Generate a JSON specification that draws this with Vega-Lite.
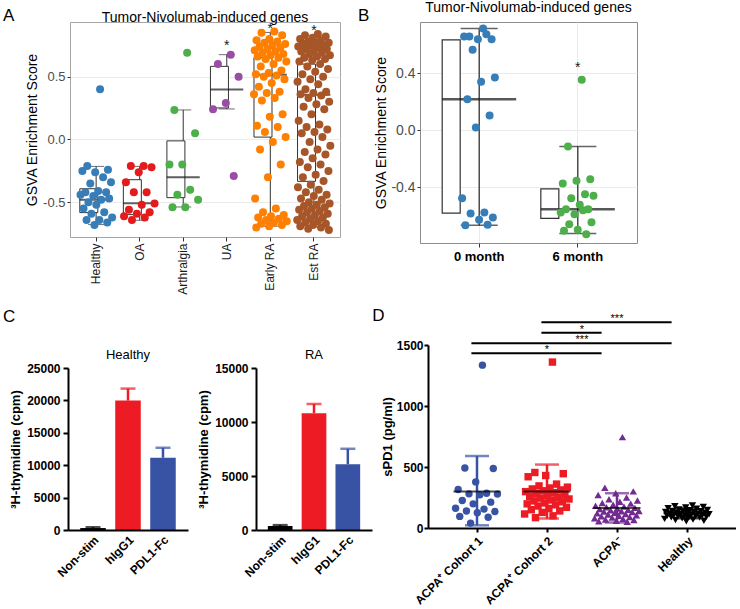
{
  "$schema": "https://vega.github.io/schema/vega-lite/v6.json",
  "padding": {"left": 3, "top": 0, "right": 0, "bottom": 0},
  "background": "white",
  "config": {
    "font": "Liberation Sans",
    "view": {"stroke": null},
    "axis": {"grid": false, "labelFont": "Liberation Sans", "titleFont": "Liberation Sans", "labelOverlap": false},
    "title": {"font": "Liberation Sans", "fontWeight": "normal", "color": "black"},
    "text": {"font": "Liberation Sans"}
  },
  "datasets": {
    "aPts": [
      {"g":"Healthy","v":0.40},{"g":"Healthy","v":-0.21},{"g":"Healthy","v":-0.24},{"g":"Healthy","v":-0.26},{"g":"Healthy","v":-0.25},{"g":"Healthy","v":-0.30},{"g":"Healthy","v":-0.35},{"g":"Healthy","v":-0.34},{"g":"Healthy","v":-0.41},{"g":"Healthy","v":-0.42},{"g":"Healthy","v":-0.42},{"g":"Healthy","v":-0.45},{"g":"Healthy","v":-0.44},{"g":"Healthy","v":-0.48},{"g":"Healthy","v":-0.50},{"g":"Healthy","v":-0.47},{"g":"Healthy","v":-0.52},{"g":"Healthy","v":-0.55},{"g":"Healthy","v":-0.58},{"g":"Healthy","v":-0.59},{"g":"Healthy","v":-0.62},{"g":"Healthy","v":-0.64},{"g":"Healthy","v":-0.64},{"g":"Healthy","v":-0.66},{"g":"Healthy","v":-0.68},
      {"g":"OA","v":-0.21},{"g":"OA","v":-0.21},{"g":"OA","v":-0.22},{"g":"OA","v":-0.26},{"g":"OA","v":-0.34},{"g":"OA","v":-0.42},{"g":"OA","v":-0.42},{"g":"OA","v":-0.51},{"g":"OA","v":-0.52},{"g":"OA","v":-0.56},{"g":"OA","v":-0.58},{"g":"OA","v":-0.59},{"g":"OA","v":-0.61},{"g":"OA","v":-0.62},{"g":"OA","v":-0.64},
      {"g":"Arthralgia","v":0.69},{"g":"Arthralgia","v":0.235},{"g":"Arthralgia","v":0.05},{"g":"Arthralgia","v":-0.20},{"g":"Arthralgia","v":-0.20},{"g":"Arthralgia","v":-0.40},{"g":"Arthralgia","v":-0.44},{"g":"Arthralgia","v":-0.48},{"g":"Arthralgia","v":-0.54},{"g":"Arthralgia","v":-0.54},
      {"g":"UA","v":0.675},{"g":"UA","v":0.60},{"g":"UA","v":0.50},{"g":"UA","v":0.29},{"g":"UA","v":0.24},{"g":"UA","v":-0.29},
      {"g":"Early RA","v":0.86},{"g":"Early RA","v":0.85},{"g":"Early RA","v":0.83},{"g":"Early RA","v":0.80},{"g":"Early RA","v":0.79},{"g":"Early RA","v":0.78},{"g":"Early RA","v":0.77},{"g":"Early RA","v":0.76},{"g":"Early RA","v":0.75},{"g":"Early RA","v":0.74},{"g":"Early RA","v":0.73},{"g":"Early RA","v":0.72},{"g":"Early RA","v":0.71},{"g":"Early RA","v":0.70},{"g":"Early RA","v":0.69},{"g":"Early RA","v":0.68},{"g":"Early RA","v":0.67},{"g":"Early RA","v":0.66},{"g":"Early RA","v":0.65},{"g":"Early RA","v":0.64},{"g":"Early RA","v":0.62},{"g":"Early RA","v":0.60},{"g":"Early RA","v":0.58},{"g":"Early RA","v":0.55},{"g":"Early RA","v":0.53},{"g":"Early RA","v":0.52},{"g":"Early RA","v":0.51},{"g":"Early RA","v":0.50},{"g":"Early RA","v":0.48},{"g":"Early RA","v":0.45},{"g":"Early RA","v":0.42},{"g":"Early RA","v":0.38},{"g":"Early RA","v":0.37},{"g":"Early RA","v":0.36},{"g":"Early RA","v":0.33},{"g":"Early RA","v":0.31},{"g":"Early RA","v":0.20},{"g":"Early RA","v":0.18},{"g":"Early RA","v":0.11},{"g":"Early RA","v":0.10},{"g":"Early RA","v":0.06},{"g":"Early RA","v":0.02},{"g":"Early RA","v":-0.02},{"g":"Early RA","v":-0.08},{"g":"Early RA","v":-0.20},{"g":"Early RA","v":-0.30},{"g":"Early RA","v":-0.47},{"g":"Early RA","v":-0.55},{"g":"Early RA","v":-0.58},{"g":"Early RA","v":-0.60},{"g":"Early RA","v":-0.61},{"g":"Early RA","v":-0.62},{"g":"Early RA","v":-0.63},{"g":"Early RA","v":-0.64},{"g":"Early RA","v":-0.65},{"g":"Early RA","v":-0.66},{"g":"Early RA","v":-0.67},{"g":"Early RA","v":-0.68},{"g":"Early RA","v":-0.69},{"g":"Early RA","v":-0.70},
      {"g":"Est RA","v":0.84},{"g":"Est RA","v":0.83},{"g":"Est RA","v":0.82},{"g":"Est RA","v":0.81},{"g":"Est RA","v":0.80},{"g":"Est RA","v":0.79},{"g":"Est RA","v":0.78},{"g":"Est RA","v":0.77},{"g":"Est RA","v":0.77},{"g":"Est RA","v":0.76},{"g":"Est RA","v":0.75},{"g":"Est RA","v":0.75},{"g":"Est RA","v":0.74},{"g":"Est RA","v":0.73},{"g":"Est RA","v":0.72},{"g":"Est RA","v":0.72},{"g":"Est RA","v":0.71},{"g":"Est RA","v":0.70},{"g":"Est RA","v":0.69},{"g":"Est RA","v":0.68},{"g":"Est RA","v":0.67},{"g":"Est RA","v":0.66},{"g":"Est RA","v":0.65},{"g":"Est RA","v":0.64},{"g":"Est RA","v":0.63},{"g":"Est RA","v":0.62},{"g":"Est RA","v":0.60},{"g":"Est RA","v":0.58},{"g":"Est RA","v":0.56},{"g":"Est RA","v":0.54},{"g":"Est RA","v":0.52},{"g":"Est RA","v":0.50},{"g":"Est RA","v":0.48},{"g":"Est RA","v":0.46},{"g":"Est RA","v":0.44},
      {"g":"Est RA","v":0.40},{"g":"Est RA","v":0.38},{"g":"Est RA","v":0.37},{"g":"Est RA","v":0.36},{"g":"Est RA","v":0.35},{"g":"Est RA","v":0.33},{"g":"Est RA","v":0.30},{"g":"Est RA","v":0.28},{"g":"Est RA","v":0.26},{"g":"Est RA","v":0.24},{"g":"Est RA","v":0.20},{"g":"Est RA","v":0.15},{"g":"Est RA","v":0.12},{"g":"Est RA","v":0.10},{"g":"Est RA","v":0.08},{"g":"Est RA","v":0.06},{"g":"Est RA","v":0.05},{"g":"Est RA","v":0.02},{"g":"Est RA","v":-0.02},{"g":"Est RA","v":-0.05},{"g":"Est RA","v":-0.08},{"g":"Est RA","v":-0.10},{"g":"Est RA","v":-0.12},{"g":"Est RA","v":-0.15},{"g":"Est RA","v":-0.18},{"g":"Est RA","v":-0.20},{"g":"Est RA","v":-0.22},{"g":"Est RA","v":-0.25},{"g":"Est RA","v":-0.28},{"g":"Est RA","v":-0.30},
      {"g":"Est RA","v":-0.33},{"g":"Est RA","v":-0.36},{"g":"Est RA","v":-0.38},{"g":"Est RA","v":-0.40},{"g":"Est RA","v":-0.42},{"g":"Est RA","v":-0.44},{"g":"Est RA","v":-0.45},{"g":"Est RA","v":-0.47},{"g":"Est RA","v":-0.48},{"g":"Est RA","v":-0.50},{"g":"Est RA","v":-0.51},{"g":"Est RA","v":-0.52},{"g":"Est RA","v":-0.53},{"g":"Est RA","v":-0.54},{"g":"Est RA","v":-0.55},{"g":"Est RA","v":-0.56},{"g":"Est RA","v":-0.57},{"g":"Est RA","v":-0.58},{"g":"Est RA","v":-0.59},{"g":"Est RA","v":-0.60},{"g":"Est RA","v":-0.61},{"g":"Est RA","v":-0.62},{"g":"Est RA","v":-0.63},{"g":"Est RA","v":-0.64},{"g":"Est RA","v":-0.65},{"g":"Est RA","v":-0.66},{"g":"Est RA","v":-0.67},{"g":"Est RA","v":-0.68},{"g":"Est RA","v":-0.69},{"g":"Est RA","v":-0.70},{"g":"Est RA","v":-0.71},{"g":"Est RA","v":-0.72}
    ],
    "aBox": [
      {"g":"Healthy","lo":-0.677,"q1":-0.582,"med":-0.479,"q3":-0.392,"hi":-0.214},
      {"g":"OA","lo":-0.643,"q1":-0.598,"med":-0.508,"q3":-0.32,"hi":-0.214},
      {"g":"Arthralgia","lo":-0.537,"q1":-0.463,"med":-0.30,"q3":-0.011,"hi":0.235},
      {"g":"UA","lo":0.243,"q1":0.251,"med":0.397,"q3":0.582,"hi":0.675,"sig":"*","sigAt":0.716},
      {"g":"Early RA","lo":-0.69,"q1":0.019,"med":0.516,"q3":0.653,"hi":0.852,"sig":"*","sigAt":0.85},
      {"g":"Est RA","lo":-0.696,"q1":-0.333,"med":0.357,"q3":0.60,"hi":0.83,"sig":"*","sigAt":0.834}
    ],
    "bPts": [
      {"g":"0 month","v":0.712},{"g":"0 month","v":0.656},{"g":"0 month","v":0.637},{"g":"0 month","v":0.637},{"g":"0 month","v":0.656},{"g":"0 month","v":0.672},{"g":"0 month","v":0.562},{"g":"0 month","v":0.369},{"g":"0 month","v":0.338},{"g":"0 month","v":0.217},{"g":"0 month","v":0.103},{"g":"0 month","v":0.019},{"g":"0 month","v":-0.476},{"g":"0 month","v":-0.576},{"g":"0 month","v":-0.583},{"g":"0 month","v":-0.611},{"g":"0 month","v":-0.628},{"g":"0 month","v":-0.665},{"g":"0 month","v":-0.663},
      {"g":"6 month","v":0.352},{"g":"6 month","v":-0.114},{"g":"6 month","v":-0.343},{"g":"6 month","v":-0.355},{"g":"6 month","v":-0.373},{"g":"6 month","v":-0.448},{"g":"6 month","v":-0.476},{"g":"6 month","v":-0.46},{"g":"6 month","v":-0.523},{"g":"6 month","v":-0.553},{"g":"6 month","v":-0.553},{"g":"6 month","v":-0.588},{"g":"6 month","v":-0.576},{"g":"6 month","v":-0.56},{"g":"6 month","v":-0.658},{"g":"6 month","v":-0.644},{"g":"6 month","v":-0.698},{"g":"6 month","v":-0.705},{"g":"6 month","v":-0.728}
    ],
    "bBox": [
      {"g":"0 month","lo":-0.665,"q1":-0.581,"med":0.217,"q3":0.632,"hi":0.712},
      {"g":"6 month","lo":-0.723,"q1":-0.618,"med":-0.553,"q3":-0.411,"hi":-0.114,"sig":"*","sigAt":0.406}
    ],
    "cH": [
      {"cond":"Non-stim","mean":300,"hi":420},
      {"cond":"hIgG1","mean":19980,"hi":21820},
      {"cond":"PDL1-Fc","mean":11150,"hi":12690}
    ],
    "cR": [
      {"cond":"Non-stim","mean":370,"hi":450},
      {"cond":"hIgG1","mean":10820,"hi":11670},
      {"cond":"PDL1-Fc","mean":6090,"hi":7520}
    ],
    "dPts": [
      {"grp":"ACPA⁺ Cohort 1","v":1335},{"grp":"ACPA⁺ Cohort 1","v":492},{"grp":"ACPA⁺ Cohort 1","v":488},{"grp":"ACPA⁺ Cohort 1","v":378},{"grp":"ACPA⁺ Cohort 1","v":315},{"grp":"ACPA⁺ Cohort 1","v":285},{"grp":"ACPA⁺ Cohort 1","v":280},{"grp":"ACPA⁺ Cohort 1","v":278},{"grp":"ACPA⁺ Cohort 1","v":272},{"grp":"ACPA⁺ Cohort 1","v":225},{"grp":"ACPA⁺ Cohort 1","v":212},{"grp":"ACPA⁺ Cohort 1","v":198},{"grp":"ACPA⁺ Cohort 1","v":162},{"grp":"ACPA⁺ Cohort 1","v":155},{"grp":"ACPA⁺ Cohort 1","v":140},{"grp":"ACPA⁺ Cohort 1","v":135},{"grp":"ACPA⁺ Cohort 1","v":125},{"grp":"ACPA⁺ Cohort 1","v":95},{"grp":"ACPA⁺ Cohort 1","v":88},{"grp":"ACPA⁺ Cohort 1","v":40},
      {"grp":"ACPA⁺ Cohort 2","v":1360},{"grp":"ACPA⁺ Cohort 2","v":455},{"grp":"ACPA⁺ Cohort 2","v":445},{"grp":"ACPA⁺ Cohort 2","v":430},{"grp":"ACPA⁺ Cohort 2","v":420},{"grp":"ACPA⁺ Cohort 2","v":360},{"grp":"ACPA⁺ Cohort 2","v":345},{"grp":"ACPA⁺ Cohort 2","v":335},{"grp":"ACPA⁺ Cohort 2","v":328},{"grp":"ACPA⁺ Cohort 2","v":320},{"grp":"ACPA⁺ Cohort 2","v":312},{"grp":"ACPA⁺ Cohort 2","v":305},{"grp":"ACPA⁺ Cohort 2","v":298},{"grp":"ACPA⁺ Cohort 2","v":290},{"grp":"ACPA⁺ Cohort 2","v":282},{"grp":"ACPA⁺ Cohort 2","v":275},{"grp":"ACPA⁺ Cohort 2","v":268},{"grp":"ACPA⁺ Cohort 2","v":260},{"grp":"ACPA⁺ Cohort 2","v":252},{"grp":"ACPA⁺ Cohort 2","v":245},{"grp":"ACPA⁺ Cohort 2","v":238},{"grp":"ACPA⁺ Cohort 2","v":230},{"grp":"ACPA⁺ Cohort 2","v":222},{"grp":"ACPA⁺ Cohort 2","v":215},{"grp":"ACPA⁺ Cohort 2","v":205},{"grp":"ACPA⁺ Cohort 2","v":198},{"grp":"ACPA⁺ Cohort 2","v":190},{"grp":"ACPA⁺ Cohort 2","v":180},{"grp":"ACPA⁺ Cohort 2","v":170},{"grp":"ACPA⁺ Cohort 2","v":160},{"grp":"ACPA⁺ Cohort 2","v":150},{"grp":"ACPA⁺ Cohort 2","v":140},{"grp":"ACPA⁺ Cohort 2","v":128},{"grp":"ACPA⁺ Cohort 2","v":115},{"grp":"ACPA⁺ Cohort 2","v":100},{"grp":"ACPA⁺ Cohort 2","v":85},
      {"grp":"ACPA⁻","v":745},{"grp":"ACPA⁻","v":330},{"grp":"ACPA⁻","v":300},{"grp":"ACPA⁻","v":285},{"grp":"ACPA⁻","v":270},{"grp":"ACPA⁻","v":250},{"grp":"ACPA⁻","v":235},{"grp":"ACPA⁻","v":225},{"grp":"ACPA⁻","v":215},{"grp":"ACPA⁻","v":205},{"grp":"ACPA⁻","v":200},{"grp":"ACPA⁻","v":190},{"grp":"ACPA⁻","v":182},{"grp":"ACPA⁻","v":175},{"grp":"ACPA⁻","v":170},{"grp":"ACPA⁻","v":165},{"grp":"ACPA⁻","v":160},{"grp":"ACPA⁻","v":155},{"grp":"ACPA⁻","v":150},{"grp":"ACPA⁻","v":145},{"grp":"ACPA⁻","v":140},{"grp":"ACPA⁻","v":138},{"grp":"ACPA⁻","v":135},{"grp":"ACPA⁻","v":130},{"grp":"ACPA⁻","v":125},{"grp":"ACPA⁻","v":120},{"grp":"ACPA⁻","v":115},{"grp":"ACPA⁻","v":110},{"grp":"ACPA⁻","v":105},{"grp":"ACPA⁻","v":100},{"grp":"ACPA⁻","v":95},{"grp":"ACPA⁻","v":90},{"grp":"ACPA⁻","v":85},{"grp":"ACPA⁻","v":80},{"grp":"ACPA⁻","v":75},{"grp":"ACPA⁻","v":70},{"grp":"ACPA⁻","v":65},{"grp":"ACPA⁻","v":60},{"grp":"ACPA⁻","v":55},{"grp":"ACPA⁻","v":50},
      {"grp":"Healthy","v":185},{"grp":"Healthy","v":178},{"grp":"Healthy","v":172},{"grp":"Healthy","v":168},{"grp":"Healthy","v":162},{"grp":"Healthy","v":158},{"grp":"Healthy","v":152},{"grp":"Healthy","v":148},{"grp":"Healthy","v":145},{"grp":"Healthy","v":140},{"grp":"Healthy","v":138},{"grp":"Healthy","v":135},{"grp":"Healthy","v":132},{"grp":"Healthy","v":130},{"grp":"Healthy","v":128},{"grp":"Healthy","v":125},{"grp":"Healthy","v":122},{"grp":"Healthy","v":120},{"grp":"Healthy","v":118},{"grp":"Healthy","v":115},{"grp":"Healthy","v":112},{"grp":"Healthy","v":110},{"grp":"Healthy","v":108},{"grp":"Healthy","v":105},{"grp":"Healthy","v":102},{"grp":"Healthy","v":100},{"grp":"Healthy","v":98},{"grp":"Healthy","v":95},{"grp":"Healthy","v":92},{"grp":"Healthy","v":90},{"grp":"Healthy","v":88},{"grp":"Healthy","v":85},{"grp":"Healthy","v":80},{"grp":"Healthy","v":75},{"grp":"Healthy","v":70},{"grp":"Healthy","v":65},{"grp":"Healthy","v":60},{"grp":"Healthy","v":55}
    ],
    "dSum": [
      {"grp":"ACPA⁺ Cohort 1","mean":300,"lo":22,"hi":590},
      {"grp":"ACPA⁺ Cohort 2","mean":300,"lo":78,"hi":520},
      {"grp":"ACPA⁻","mean":164,"lo":45,"hi":285},
      {"grp":"Healthy","mean":120,"lo":80,"hi":162}
    ],
    "dSig": [
      {"from":"ACPA⁺ Cohort 2","to":"Healthy","y":1686,"stars":"***","mid":"ACPA⁻"},
      {"from":"ACPA⁺ Cohort 2","to":"ACPA⁻","y":1601,"stars":"*","edge":"ACPA⁻"},
      {"from":"ACPA⁺ Cohort 1","to":"Healthy","y":1514,"stars":"***","edge":"ACPA⁻"},
      {"from":"ACPA⁺ Cohort 1","to":"ACPA⁻","y":1432,"stars":"*","mid":"ACPA⁺ Cohort 2"}
    ]
  },
  "resolve": {"scale": {"color": "independent", "shape": "independent", "xOffset": "independent"}},
  "spacing": 12,
  "vconcat": [
    {
      "hconcat": [
        {"width": 1, "height": 1, "data": {"values": []}, "mark": "point",
         "title": {"text": "A", "anchor": "start", "fontSize": 17, "offset": -3, "dx": -65}},
        {
          "width": 270, "height": 215,
          "view": {"stroke": "#a6a6a6", "strokeWidth": 1},
          "title": {"text": "Tumor-Nivolumab-induced genes", "fontSize": 14, "offset": -3, "frame": "group"},
          "layer": [
            {
              "data": {"name": "aBox"},
              "mark": {"type": "rule", "color": "#333333", "strokeWidth": 1},
              "encoding": {
                "x": {"field": "g", "type": "nominal", "title": null,
                      "scale": {"domain": ["Healthy","OA","Arthralgia","UA","Early RA","Est RA"], "paddingInner": 0, "paddingOuter": 0.1},
                      "axis": {"labelAngle": 270, "labelAlign": "right", "labelBaseline": "middle", "labelFontSize": 12, "labelColor": "#1a1a1a", "tickSize": 4, "tickColor": "#333333", "domain": false, "labelPadding": 2}},
                "y": {"field": "lo", "type": "quantitative", "title": "GSVA Enrichment Score",
                      "scale": {"domain": [-0.776, 0.935], "nice": false, "zero": false},
                      "axis": {"values": [-0.5, 0, 0.5], "labelExpr": "datum.value < 0 ? '-' + format(-datum.value, '.1f') : format(datum.value, '.1f')", "labelFontSize": 13, "labelColor": "#4d4d4d", "tickSize": 3, "tickColor": "#333333", "domain": false, "grid": true, "gridColor": "#ebebeb", "titleFontSize": 14, "titleFontWeight": "normal", "titleColor": "black", "titlePadding": 3, "labelPadding": 2}},
                "y2": {"field": "hi"}
              }
            },
            {
              "data": {"name": "aBox"},
              "transform": [{"fold": ["lo", "hi"], "as": ["k", "w"]}],
              "mark": {"type": "tick", "color": "#333333", "thickness": 1, "size": 16},
              "encoding": {"x": {"field": "g", "type": "nominal", "title": null}, "y": {"field": "w", "type": "quantitative"}}
            },
            {
              "data": {"name": "aBox"},
              "mark": {"type": "bar", "fill": "white", "stroke": "#333333", "strokeWidth": 1, "width": {"band": 0.75}},
              "encoding": {"x": {"field": "g", "type": "nominal", "title": null}, "y": {"field": "q1", "type": "quantitative"}, "y2": {"field": "q3"}}
            },
            {
              "data": {"name": "aBox"},
              "mark": {"type": "tick", "color": "#1a1a1a", "thickness": 2, "size": 33},
              "encoding": {"x": {"field": "g", "type": "nominal", "title": null}, "y": {"field": "med", "type": "quantitative"}}
            },
            {
              "data": {"name": "aPts"},
              "transform": [
                {"window": [{"op": "row_number", "as": "i"}], "groupby": ["g"]},
                {"calculate": "(datum.i * 0.6180339887) % 1 - 0.5", "as": "jit"}
              ],
              "mark": {"type": "circle", "size": 64, "opacity": 1},
              "encoding": {
                "x": {"field": "g", "type": "nominal", "title": null},
                "xOffset": {"field": "jit", "type": "quantitative", "scale": {"domain": [-0.5, 0.5], "range": [5, 38.5]}},
                "y": {"field": "v", "type": "quantitative"},
                "color": {"field": "g", "type": "nominal", "legend": null,
                          "scale": {"domain": ["Healthy","OA","Arthralgia","UA","Early RA","Est RA"], "range": ["#377eb8","#e41a1c","#4daf4a","#984ea3","#ff7f00","#a65628"]}}
              }
            },
            {
              "data": {"name": "aBox"},
              "transform": [{"filter": "isValid(datum.sig)"}],
              "mark": {"type": "text", "fontSize": 14, "color": "#1a1a1a", "baseline": "alphabetic"},
              "encoding": {"x": {"field": "g", "type": "nominal", "title": null}, "y": {"field": "sigAt", "type": "quantitative"}, "text": {"field": "sig"}}
            }
          ]
        },
        {"width": 78, "height": 1, "data": {"values": []}, "mark": "point",
         "title": {"text": "B", "anchor": "start", "fontSize": 17, "offset": -3, "dx": 17}},
        {
          "width": 217, "height": 221,
          "view": {"stroke": "#8c8c8c", "strokeWidth": 1},
          "title": {"text": "Tumor-Nivolumab-induced genes", "fontSize": 14, "offset": 7, "frame": "group"},
          "layer": [
            {
              "data": {"name": "bBox"},
              "mark": {"type": "rule", "color": "#222222", "strokeWidth": 1.2},
              "encoding": {
                "x": {"field": "g", "type": "nominal", "title": null,
                      "scale": {"domain": ["0 month", "6 month"], "paddingInner": 0, "paddingOuter": 0.1},
                      "axis": {"labelAngle": 0, "labelFontSize": 13, "labelFontWeight": "bold", "labelColor": "black", "tickSize": 4, "tickColor": "#333333", "domain": false, "labelPadding": 3, "grid": true, "gridColor": "#ebebeb"}},
                "y": {"field": "lo", "type": "quantitative", "title": "GSVA Enrichment Score",
                      "scale": {"domain": [-0.79, 0.757], "nice": false, "zero": false},
                      "axis": {"values": [-0.4, 0, 0.4], "labelExpr": "datum.value < 0 ? '-' + format(-datum.value, '.1f') : format(datum.value, '.1f')", "labelFontSize": 14, "labelColor": "#4d4d4d", "tickSize": 3, "tickColor": "#333333", "domain": false, "grid": true, "gridColor": "#ebebeb", "titleFontSize": 14, "titleFontWeight": "normal", "titleColor": "black", "titlePadding": 2, "labelPadding": 2}},
                "y2": {"field": "hi"}
              }
            },
            {
              "data": {"name": "bBox"},
              "transform": [{"fold": ["lo", "hi"], "as": ["k", "w"]}],
              "mark": {"type": "tick", "color": "#222222", "thickness": 1.5, "size": 37},
              "encoding": {"x": {"field": "g", "type": "nominal", "title": null}, "y": {"field": "w", "type": "quantitative"}}
            },
            {
              "data": {"name": "bBox"},
              "mark": {"type": "bar", "fill": "white", "stroke": "#333333", "strokeWidth": 1.2, "width": {"band": 0.75}},
              "encoding": {"x": {"field": "g", "type": "nominal", "title": null}, "y": {"field": "q1", "type": "quantitative"}, "y2": {"field": "q3"}}
            },
            {
              "data": {"name": "bBox"},
              "mark": {"type": "tick", "color": "#111111", "thickness": 2.5, "size": 74},
              "encoding": {"x": {"field": "g", "type": "nominal", "title": null}, "y": {"field": "med", "type": "quantitative"}}
            },
            {
              "data": {"name": "bPts"},
              "transform": [
                {"window": [{"op": "row_number", "as": "i"}], "groupby": ["g"]},
                {"calculate": "(datum.i * 0.6180339887) % 1 - 0.5", "as": "jit"}
              ],
              "mark": {"type": "circle", "size": 64, "opacity": 1},
              "encoding": {
                "x": {"field": "g", "type": "nominal", "title": null},
                "xOffset": {"field": "jit", "type": "quantitative", "scale": {"domain": [-0.5, 0.5], "range": [31, 67]}},
                "y": {"field": "v", "type": "quantitative"},
                "color": {"field": "g", "type": "nominal", "legend": null,
                          "scale": {"domain": ["0 month", "6 month"], "range": ["#377eb8", "#4daf4a"]}}
              }
            },
            {
              "data": {"name": "bBox"},
              "transform": [{"filter": "isValid(datum.sig)"}],
              "mark": {"type": "text", "fontSize": 14, "color": "#1a1a1a", "baseline": "alphabetic"},
              "encoding": {"x": {"field": "g", "type": "nominal", "title": null}, "y": {"field": "sigAt", "type": "quantitative"}, "text": {"field": "sig"}}
            }
          ]
        }
      ],
      "bounds": "flush",
      "spacing": 1,
      "resolve": {"scale": {"color": "independent", "shape": "independent", "xOffset": "independent"}}
    },
    {
      "hconcat": [
        {
          "spacing": 3,
          "resolve": {"scale": {"color": "independent", "shape": "independent", "xOffset": "independent"}},
          "vconcat": [
            {"width": 1, "height": 1, "data": {"values": []}, "mark": "point",
             "title": {"text": "C", "anchor": "start", "fontSize": 17, "offset": 19, "dx": -65}},
            {
              "spacing": 9,
              "resolve": {"scale": {"color": "independent", "shape": "independent", "xOffset": "independent"}},
              "hconcat": [
                {
                  "width": 120, "height": 162,
                  "title": {"text": "Healthy", "fontSize": 13, "offset": 0, "frame": "group"},
                  "data": {"name": "cH"},
                  "encoding": {
                    "x": {"field": "cond", "type": "nominal", "title": null,
                          "scale": {"domain": ["Non-stim","hIgG1","PDL1-Fc"], "paddingInner": 0.27, "paddingOuter": 0.35},
                          "axis": {"labelAngle": -45, "labelAlign": "right", "labelBaseline": "top", "labelFontSize": 12, "labelFontWeight": "bold", "labelColor": "black", "ticks": false, "domainColor": "black", "domainWidth": 2, "labelPadding": 4, "zindex": 1}},
                    "color": {"field": "cond", "type": "nominal", "legend": null,
                              "scale": {"domain": ["Non-stim","hIgG1","PDL1-Fc"], "range": ["#000000","#ed1c24","#3953a4"]}}
                  },
                  "layer": [
                    {"mark": {"type": "bar"},
                     "encoding": {"y": {"field": "mean", "type": "quantitative", "title": "³H-thymidine (cpm)",
                       "scale": {"domain": [0, 25000], "nice": false},
                       "axis": {"values": [0, 5000, 10000, 15000, 20000, 25000], "tickCount": 6, "format": "d", "labelOverlap": false, "labelFontSize": 12, "labelFontWeight": "bold", "labelColor": "black", "tickColor": "black", "tickWidth": 2, "tickSize": 5, "domainColor": "black", "domainWidth": 2, "titleFontSize": 13, "titleFontWeight": "bold", "titleColor": "black", "titlePadding": 4, "labelPadding": 3, "zindex": 1}}}},
                    {"mark": {"type": "rule", "strokeWidth": 2.5},
                     "encoding": {"y": {"field": "mean", "type": "quantitative"}, "y2": {"field": "hi"}}},
                    {"mark": {"type": "tick", "thickness": 2.5, "size": 15},
                     "encoding": {"y": {"field": "hi", "type": "quantitative"}}}
                  ]
                },
                {
                  "width": 116, "height": 162,
                  "title": {"text": "RA", "fontSize": 13, "offset": 0, "frame": "group"},
                  "data": {"name": "cR"},
                  "encoding": {
                    "x": {"field": "cond", "type": "nominal", "title": null,
                          "scale": {"domain": ["Non-stim","hIgG1","PDL1-Fc"], "paddingInner": 0.27, "paddingOuter": 0.35},
                          "axis": {"labelAngle": -45, "labelAlign": "right", "labelBaseline": "top", "labelFontSize": 12, "labelFontWeight": "bold", "labelColor": "black", "ticks": false, "domainColor": "black", "domainWidth": 2, "labelPadding": 4, "zindex": 1}},
                    "color": {"field": "cond", "type": "nominal", "legend": null,
                              "scale": {"domain": ["Non-stim","hIgG1","PDL1-Fc"], "range": ["#000000","#ed1c24","#3953a4"]}}
                  },
                  "layer": [
                    {"mark": {"type": "bar"},
                     "encoding": {"y": {"field": "mean", "type": "quantitative", "title": "³H-thymidine (cpm)",
                       "scale": {"domain": [0, 15000], "nice": false},
                       "axis": {"values": [0, 5000, 10000, 15000], "tickCount": 4, "format": "d", "labelOverlap": false, "labelFontSize": 12, "labelFontWeight": "bold", "labelColor": "black", "tickColor": "black", "tickWidth": 2, "tickSize": 5, "domainColor": "black", "domainWidth": 2, "titleFontSize": 13, "titleFontWeight": "bold", "titleColor": "black", "titlePadding": 4, "labelPadding": 3, "zindex": 1}}}},
                    {"mark": {"type": "rule", "strokeWidth": 2.5},
                     "encoding": {"y": {"field": "mean", "type": "quantitative"}, "y2": {"field": "hi"}}},
                    {"mark": {"type": "tick", "thickness": 2.5, "size": 15},
                     "encoding": {"y": {"field": "hi", "type": "quantitative"}}}
                  ]
                }
              ]
            }
          ]
        },
        {
          "width": 308, "height": 183,
          "title": {"text": "D", "anchor": "start", "frame": "bounds", "fontSize": 17, "dx": -9, "offset": -12},
          "layer": [
            {
              "data": {"name": "dPts"},
              "transform": [
                {"window": [{"op": "row_number", "as": "i"}], "groupby": ["grp"]},
                {"calculate": "(datum.i * 0.6180339887) % 1 - 0.5", "as": "jit"}
              ],
              "mark": {"type": "point", "filled": true, "opacity": 1, "size": 55},
              "encoding": {
                "x": {"field": "grp", "type": "nominal", "title": null,
                      "scale": {"domain": ["ACPA⁺ Cohort 1","ACPA⁺ Cohort 2","ACPA⁻","Healthy"], "paddingInner": 0, "paddingOuter": 0.2},
                      "axis": {"labelAngle": -45, "labelAlign": "right", "labelBaseline": "top", "labelFontSize": 12, "labelFontWeight": "bold", "labelColor": "black", "tickColor": "black", "tickWidth": 2, "tickSize": 4, "domainColor": "black", "domainWidth": 2, "labelPadding": 3, "zindex": 1}},
                "xOffset": {"field": "jit", "type": "quantitative", "scale": {"domain": [-0.5, 0.5], "range": [12, 58]}},
                "y": {"field": "v", "type": "quantitative", "title": "sPD1 (pg/ml)",
                      "scale": {"domain": [0, 1500], "nice": false},
                      "axis": {"values": [0, 500, 1000, 1500], "tickCount": 4, "format": "d", "labelOverlap": false, "labelFontSize": 12, "labelFontWeight": "bold", "labelColor": "black", "tickColor": "black", "tickWidth": 2, "tickSize": 4, "domainColor": "black", "domainWidth": 2, "titleFontSize": 13, "titleFontWeight": "bold", "titleColor": "black", "titlePadding": 2, "labelPadding": 1, "zindex": 1}},
                "color": {"field": "grp", "type": "nominal", "legend": null,
                          "scale": {"domain": ["ACPA⁺ Cohort 1","ACPA⁺ Cohort 2","ACPA⁻","Healthy"], "range": ["#3953a4","#ed1c24","#722b90","#000000"]}},
                "shape": {"field": "grp", "type": "nominal", "legend": null,
                          "scale": {"domain": ["ACPA⁺ Cohort 1","ACPA⁺ Cohort 2","ACPA⁻","Healthy"], "range": ["circle","square","triangle-up","triangle-down"]}}
              }
            },
            {
              "data": {"name": "dSum"},
              "mark": {"type": "rule", "strokeWidth": 2.5},
              "encoding": {"x": {"field": "grp", "type": "nominal", "title": null}, "y": {"field": "lo", "type": "quantitative"}, "y2": {"field": "hi"},
                           "color": {"field": "grp", "type": "nominal", "legend": null}}
            },
            {
              "data": {"name": "dSum"},
              "transform": [{"fold": ["lo", "hi"], "as": ["k", "w"]}],
              "mark": {"type": "tick", "thickness": 2.5, "size": 24},
              "encoding": {"x": {"field": "grp", "type": "nominal", "title": null}, "y": {"field": "w", "type": "quantitative"},
                           "color": {"field": "grp", "type": "nominal", "legend": null}}
            },
            {
              "data": {"name": "dSum"},
              "mark": {"type": "tick", "thickness": 2, "size": 47, "color": "black"},
              "encoding": {"x": {"field": "grp", "type": "nominal", "title": null}, "y": {"field": "mean", "type": "quantitative"}}
            },
            {
              "data": {"name": "dSig"},
              "mark": {"type": "rule", "strokeWidth": 2, "color": "black"},
              "encoding": {"x": {"field": "from", "type": "nominal", "title": null, "bandPosition": 0.42}, "x2": {"field": "to", "bandPosition": 0.28}, "y": {"field": "y", "type": "quantitative"}}
            },
            {
              "data": {"name": "dSig"},
              "transform": [{"filter": "isValid(datum.mid)"}],
              "mark": {"type": "text", "fontSize": 11, "baseline": "alphabetic", "color": "black"},
              "encoding": {"x": {"field": "mid", "type": "nominal", "title": null}, "y": {"field": "y", "type": "quantitative"}, "text": {"field": "stars"}}
            },
            {
              "data": {"name": "dSig"},
              "transform": [{"filter": "isValid(datum.edge)"}],
              "mark": {"type": "text", "fontSize": 11, "baseline": "alphabetic", "color": "black"},
              "encoding": {"x": {"field": "edge", "type": "nominal", "title": null, "bandPosition": 0}, "y": {"field": "y", "type": "quantitative"}, "text": {"field": "stars"}}
            }
          ]
        }
      ],
      "spacing": 0,
      "resolve": {"scale": {"color": "independent", "shape": "independent", "xOffset": "independent"}}
    }
  ]
}
